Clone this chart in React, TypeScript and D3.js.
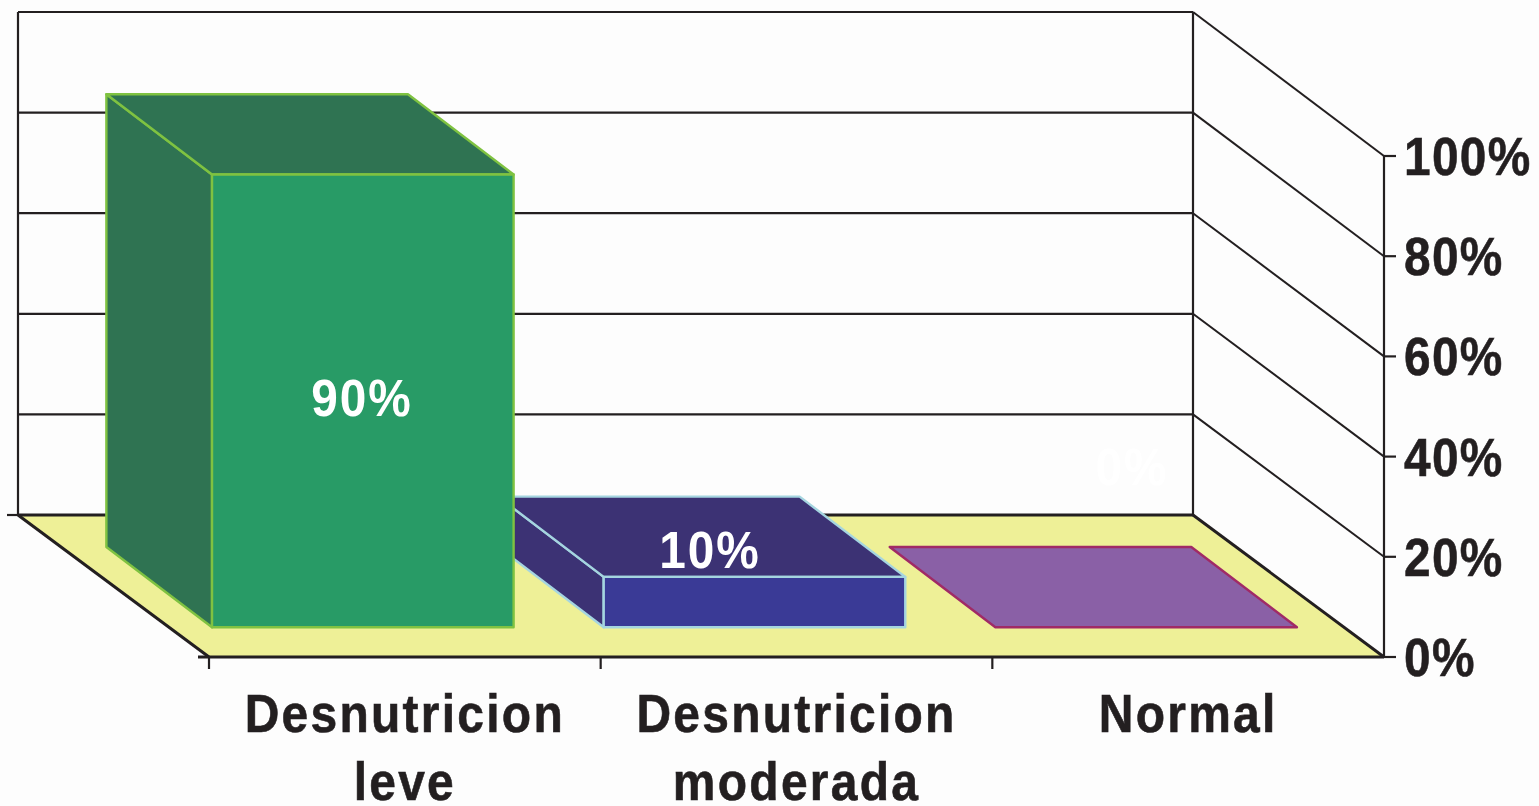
import React from "react";
import * as d3 from "d3";

const categories = ["Desnutricion leve", "Desnutricion moderada", "Normal"];
const categoryLines = [["Desnutricion", "leve"], ["Desnutricion", "moderada"], ["Normal"]];
const values = [90, 10, 0];
const valueLabels = ["90%", "10%", "0%"];
const ticks = [0, 20, 40, 60, 80, 100];

const frontFill = ["#289b66", "#3a3a96", "#8a60a6"];
const darkFill = ["#2f7352", "#3c3274", "#8a60a6"];
const edge = ["#7fc241", "#a5d5e0", "#a02a66"];
const ink = "#231f20";
const font = "'Liberation Sans', Arial, sans-serif";

const W = 1539, H = 806;
const band = d3.scaleBand<number>().domain([0, 1, 2]).range([209, 1384]);
const zDx = d3.scaleLinear().domain([0, 1]).range([0, -191]);
const barDx = d3.scaleLinear().domain([0, 1]).range([0, -187]);
const zDy = d3.scaleLinear().domain([0, 1]).range([657, 515]);
const yFront = d3.scaleLinear().domain([0, 100]).range([657, 156]);
const yBack = d3.scaleLinear().domain([0, 100]).range([515, 12]);
const barH = d3.scaleLinear().domain([0, 100]).range([0, 503]);
const Z0 = 0.21, Z1 = 0.775;
const barStart = 0.108, barEnd = 0.878;

const pts = (p: number[][]) => p.map(d => d.join(",")).join(" ");

function Bar({ i }: { i: number }) {
  const b = band(i)!, w = band.bandwidth();
  const xL = b + barStart * w, xR = b + barEnd * w;
  const F = (x: number, z: number, v: number) => [x + barDx(z), zDy(z) - barH(v)];
  const v = values[i];
  const e = { stroke: edge[i], strokeWidth: 2.4, strokeLinejoin: "round" as const };
  if (v === 0) {
    return <polygon points={pts([F(xL, Z0, 0), F(xR, Z0, 0), F(xR, Z1, 0), F(xL, Z1, 0)])} fill={frontFill[i]} {...e} />;
  }
  return (
    <g>
      <polygon points={pts([F(xL, Z1, 0), F(xL, Z0, 0), F(xL, Z0, v), F(xL, Z1, v)])} fill={darkFill[i]} {...e} />
      <polygon points={pts([F(xL, Z0, v), F(xR, Z0, v), F(xR, Z1, v), F(xL, Z1, v)])} fill={darkFill[i]} {...e} />
      <rect x={F(xL, Z0, v)[0]} y={F(xL, Z0, v)[1]} width={xR - xL} height={barH(v)} fill={frontFill[i]} {...e} />
    </g>
  );
}

export default function App() {
  const x0 = 209, x1 = 1384;
  const backL = x0 + zDx(1), backR = x1 + zDx(1);
  const labelPos = [[362, 416], [710, 568], [1132, 485]];
  const labelFill = ["#ffffff", "#ffffff", "#ffffff"];
  return (
    <svg width={W} height={H} viewBox={`0 0 ${W} ${H}`} style={{ position: "absolute", left: 0, top: 0 }} fontFamily={font} fontWeight="bold">
      <rect width={W} height={H} fill="#fdfdfd" />
      <polygon points={pts([[backL, 515], [backR, 515], [x1, 657], [x0, 657]])} fill="#eef097" />
      {ticks.map(t => (
        <g key={t} stroke={ink} fill="none">
          <line x1={backL} x2={backR} y1={yBack(t)} y2={yBack(t)} strokeWidth={t === 0 ? 3 : 2.2} />
          <line x1={backR} x2={x1} y1={yBack(t)} y2={yFront(t)} strokeWidth={t === 0 ? 3 : 2} />
          <line x1={x1} x2={x1 + 12} y1={yFront(t)} y2={yFront(t)} strokeWidth={2.2} />
        </g>
      ))}
      <g stroke={ink} fill="none">
        <line x1={backL} x2={backL} y1={yBack(100)} y2={yBack(0)} strokeWidth={2.2} />
        <line x1={backR} x2={backR} y1={yBack(100)} y2={yBack(0)} strokeWidth={2.2} />
        <line x1={x1} x2={x1} y1={yFront(100)} y2={yFront(0)} strokeWidth={2.2} />
        <line x1={backL - 11} x2={backL} y1={515} y2={515} strokeWidth={2.2} />
        <line x1={backL} x2={x0} y1={515} y2={657} strokeWidth={3} />
        <line x1={x0 - 11} x2={x1} y1={657} y2={657} strokeWidth={3} />
        {[0, 1, 2].map(i => <line key={i} x1={band(i)} x2={band(i)} y1={657} y2={669} strokeWidth={2.2} />)}
      </g>
      {[2, 1, 0].map(i => <Bar key={categories[i]} i={i} />)}
      {valueLabels.map((l, i) => (
        <text key={l} transform={`translate(${labelPos[i][0]},${labelPos[i][1]}) scale(0.92,1)`} textAnchor="middle" fontSize={52} fill={labelFill[i]} letterSpacing={2}>{l}</text>
      ))}
      {ticks.map(t => (
        <text key={t} transform={`translate(1404,${yFront(t) + 19}) scale(0.885,1)`} fontSize={54} fill={ink} stroke={ink} strokeWidth={0.6} letterSpacing={1.5}>{t}%</text>
      ))}
      {categoryLines.map((lines, i) => lines.map((s, j) => (
        <text key={s + i} transform={`translate(${band(i)! + band.bandwidth() / 2},${732 + j * 68}) scale(0.905,1)`} textAnchor="middle" fontSize={53} fill={ink} stroke={ink} strokeWidth={0.6} letterSpacing={2.5}>{s}</text>
      )))}
    </svg>
  );
}
